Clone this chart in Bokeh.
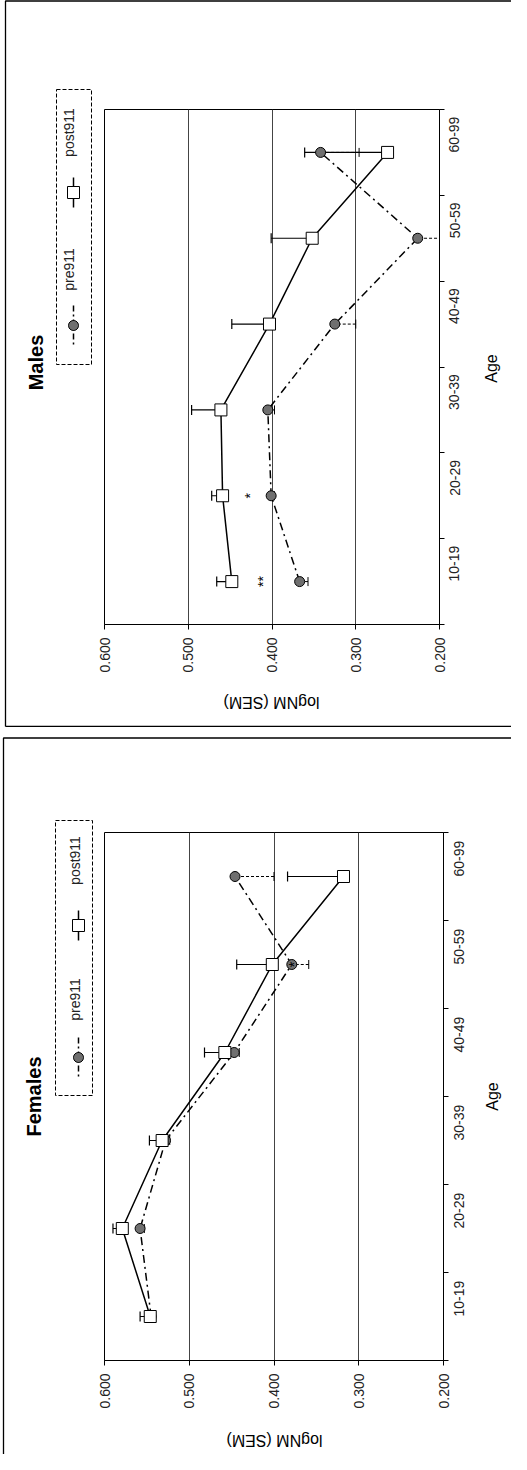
import math
from bokeh.plotting import figure
from bokeh.models import (Range1d, FixedTicker, ColumnDataSource, Whisker, TeeHead,
                          Label, NumeralTickFormatter, CustomJSTickFormatter)
from bokeh.layouts import column
from bokeh.embed import file_html
from bokeh.resources import INLINE
from bokeh.core.properties import value

# ---------------- data ----------------
ages = ["10-19", "20-29", "30-39", "40-49", "50-59", "60-99"]
value_ticks = [0.2, 0.3, 0.4, 0.5, 0.6]

male_pre911 = [0.367, 0.401, 0.405, 0.325, 0.226, 0.342]
male_pre911_sem = [0.010, 0.004, 0.008, 0.025, 0.035, 0.046]
male_post911 = [0.448, 0.459, 0.461, 0.403, 0.352, 0.262]
male_post911_sem = [0.018, 0.013, 0.035, 0.045, 0.049, 0.099]
male_sig_ages = ["10-19", "20-29"]
male_sig_vals = [0.411, 0.426]
male_sig_text = ["**", "*"]

fem_pre911 = [0.545, 0.558, 0.528, 0.447, 0.379, 0.446]
fem_pre911_sem = [0.004, 0.005, 0.005, 0.006, 0.020, 0.046]
fem_post911 = [0.546, 0.579, 0.532, 0.458, 0.402, 0.318]
fem_post911_sem = [0.012, 0.011, 0.015, 0.024, 0.042, 0.066]
fem_sig_ages = ["50-59"]
fem_sig_vals = [0.376]
fem_sig_text = ["*"]

FONT = "Liberation Sans"


def make_chart(name, pre, pre_sem, post, post_sem, sig_ages, sig_vals, sig_text, g):
    fl, ft, fw, fh, W, H = g["fl"], g["ft"], g["fw"], g["fh"], g["W"], g["H"]
    vmax, vmin = max(value_ticks), min(value_ticks)
    n = len(ages)

    def xv(px):
        return vmax - (px - fl) * (vmax - vmin) / fw

    def yv(py):
        return (ft + fh - py) * n / fh

    p = figure(frame_width=fw, frame_height=fh,
               min_border_left=fl, min_border_top=ft,
               min_border_right=W - fl - fw, min_border_bottom=H - ft - fh,
               x_range=Range1d(vmax, vmin), y_range=Range1d(0, n),
               y_axis_location="right", toolbar_location=None,
               output_backend="svg", background_fill_color="white",
               border_fill_color="white")
    p.outline_line_color = "black"
    p.outline_line_width = 1

    # value axis (bottom)
    xa = p.xaxis[0]
    xa.ticker = FixedTicker(ticks=value_ticks)
    xa.formatter = NumeralTickFormatter(format="0.000")
    xa.major_label_orientation = math.pi / 2
    xa.major_label_text_font = FONT
    xa.major_label_text_font_size = "14px"
    xa.major_label_text_color = "#222222"
    xa.major_tick_out = 5
    xa.major_tick_in = 0
    xa.major_label_standoff = 8
    xa.axis_line_color = "black"
    xa.major_tick_line_color = "black"

    # category axis (right)
    ys = [i + 0.5 for i in range(n)]
    ya = p.yaxis[0]
    ya.ticker = FixedTicker(ticks=ys, minor_ticks=[float(i) for i in range(n + 1)])
    ya.formatter = CustomJSTickFormatter(args=dict(labels=ages),
                                         code="return labels[Math.floor(tick)] || ''")
    ya.major_label_orientation = math.pi / 2
    ya.major_label_text_font = FONT
    ya.major_label_text_font_size = "14px"
    ya.major_label_text_color = "#222222"
    ya.major_tick_line_color = None
    ya.major_tick_out = 5
    ya.major_label_standoff = 10
    ya.minor_tick_line_color = "black"
    ya.minor_tick_out = 5
    ya.minor_tick_in = 0
    ya.axis_line_color = "black"

    p.xgrid.grid_line_color = "#444444"
    p.xgrid.grid_line_width = 1
    p.ygrid.visible = False

    # error bars
    pre_src = ColumnDataSource(dict(y=ys, lo=[v - e for v, e in zip(pre, pre_sem)], hi=pre))
    post_src = ColumnDataSource(dict(y=ys, lo=post, hi=[v + e for v, e in zip(post, post_sem)]))
    p.add_layout(Whisker(source=pre_src, base="y", lower="lo", upper="hi", dimension="width",
                         line_color="black", line_width=1, line_dash="3 2",
                         lower_head=TeeHead(size=9, line_color="black", line_width=1),
                         upper_head=None))
    p.add_layout(Whisker(source=post_src, base="y", lower="lo", upper="hi", dimension="width",
                         line_color="black", line_width=1.2,
                         upper_head=TeeHead(size=10, line_color="black", line_width=1.2),
                         lower_head=None))

    # series
    p.line(pre, ys, line_color="black", line_width=1.5, line_dash="8 4 2 4")
    p.scatter(pre, ys, marker="circle", size=10, fill_color="#6f6f6f",
              line_color="black", line_width=1)
    p.line(post, ys, line_color="black", line_width=1.5)
    p.scatter(post, ys, marker="square", size=12, fill_color="white",
              line_color="black", line_width=1)

    # significance marks
    sig_y = [ages.index(a) + 0.5 for a in sig_ages]
    p.text(sig_vals, sig_y, text=sig_text, angle=math.pi / 2, text_align="center",
           text_baseline="middle", text_font=value(FONT), text_font_size="14px",
           text_color="black")

    # outer chart border (chart-area frame)
    bx = [xv(3), xv(3), xv(W + 30)]
    by = [yv(H - 1 if g["bottom_edge"] else H + 30), yv(0.5), yv(0.5)]
    p.line(bx, by, line_color="black", line_width=1.3, level="overlay")
    if g["bottom_edge"]:
        p.line([xv(3), xv(W + 30)], [yv(H - 1), yv(H - 1)],
               line_color="black", line_width=1.3, level="overlay")

    # title
    p.add_layout(Label(x=xv(g["title"][0]), y=yv(g["title"][1]), text=name,
                       angle=math.pi / 2, text_align="center", text_baseline="middle",
                       text_font=FONT, text_font_style="bold", text_font_size="20px",
                       text_color="black"), "left")
    # axis titles
    p.add_layout(Label(x=xv(g["age"][0]), y=yv(g["age"][1]), text="Age",
                       angle=math.pi / 2, text_align="center", text_baseline="middle",
                       text_font=FONT, text_font_size="16px", text_color="black"), "right")
    p.add_layout(Label(x=xv(g["vt"][0]), y=yv(g["vt"][1]), text="logNM (SEM)",
                       angle=math.pi, text_align="center", text_baseline="middle",
                       text_font=FONT, text_font_size="16px", text_color="black"), "below")

    # legend
    lg = g["legend"]
    x0, y0, x1, y1 = lg["box"]
    p.line([xv(x0), xv(x1), xv(x1), xv(x0), xv(x0)],
           [yv(y0), yv(y0), yv(y1), yv(y1), yv(y0)],
           line_color="black", line_width=1, line_dash="4 2", level="overlay")
    mxp = lg["mx"]
    mx = xv(mxp)
    tx = xv(lg["tx"])
    p.line([mx, mx], [yv(lg["post_line"][0]), yv(lg["post_line"][1])],
           line_color="black", line_width=1.5, level="overlay")
    sq = lg["post_mark"]
    p.patch([xv(mxp - 6), xv(mxp + 6), xv(mxp + 6), xv(mxp - 6)],
            [yv(sq - 6), yv(sq - 6), yv(sq + 6), yv(sq + 6)],
            fill_color="white", line_color="black", line_width=1, level="overlay")
    p.line([mx, mx], [yv(lg["pre_line"][0]), yv(lg["pre_line"][1])],
           line_color="black", line_width=1.5, line_dash="6 3 2 3", level="overlay")
    cy = lg["pre_mark"]
    angs = [2 * math.pi * k / 24 for k in range(24)]
    p.patch([xv(mxp + 5 * math.cos(a)) for a in angs],
            [yv(cy + 5 * math.sin(a)) for a in angs],
            fill_color="#6f6f6f", line_color="black", line_width=1, level="overlay")
    p.add_layout(Label(x=tx, y=yv(lg["post_text"]), text="post911", angle=math.pi / 2,
                       text_align="center", text_baseline="middle", text_font=FONT,
                       text_font_size="14px", text_color="#222222"), "left")
    p.add_layout(Label(x=tx, y=yv(lg["pre_text"]), text="pre911", angle=math.pi / 2,
                       text_align="center", text_baseline="middle", text_font=FONT,
                       text_font_size="14px", text_color="#222222"), "left")
    return p


male_geom = dict(fl=102, ft=109, fw=335, fh=515, W=511, H=727, bottom_edge=True,
                 title=(33, 362), age=(489, 368), vt=(269, 702),
                 legend=dict(box=(54, 89, 89, 364), tx=66, mx=71,
                             post_text=132, post_mark=192, post_line=(177, 207),
                             pre_text=269, pre_mark=325, pre_line=(305, 345)))
fem_geom = dict(fl=104, ft=95, fw=339, fh=528, W=511, H=717, bottom_edge=False,
                title=(33, 359), age=(492, 359), vt=(274, 703),
                legend=dict(box=(55, 83, 92, 358), tx=74, mx=78,
                            post_text=123, post_mark=188, post_line=(173, 203),
                            pre_text=262, pre_mark=320, pre_line=(300, 340)))

p_m = make_chart("Males", male_pre911, male_pre911_sem, male_post911, male_post911_sem,
                 male_sig_ages, male_sig_vals, male_sig_text, male_geom)
p_f = make_chart("Females", fem_pre911, fem_pre911_sem, fem_post911, fem_post911_sem,
                 fem_sig_ages, fem_sig_vals, fem_sig_text, fem_geom)

layout = column(p_m, p_f, spacing=10)
open("out.html", "w").write(file_html(layout, INLINE))
